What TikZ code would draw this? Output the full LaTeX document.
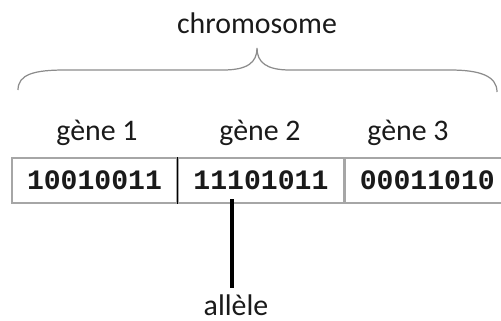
\documentclass[tikz,border=0pt]{standalone}
\usepackage{fontspec}
\setmainfont{Carlito}
\newfontfamily\bitsfont{Liberation Mono}
\usepackage{xcolor}
\definecolor{cellgray}{HTML}{A6A6A6}
\definecolor{bracegray}{HTML}{8C8C8C}
\definecolor{inkblack}{HTML}{1A1A1A}
\usetikzlibrary{positioning, calc}
\tikzset{
    cell/.style = {draw=cellgray, thick, minimum width=3.3cm, minimum height=0.9cm,
                   inner sep=0pt, font=\bitsfont\bfseries\fontsize{16}{18}\selectfont, text=inkblack},
    label/.style = {anchor=base, font=\fontsize{17}{20}\selectfont, text=inkblack},
    pinline/.style = {line width=2.3pt, color=black},
    bracket/.style = {draw=bracegray, line width=0.7pt},
}

\begin{document}
\begin{tikzpicture}
        \clip (0,0) rectangle (10.02,6.4);
        % chromosome cells
        \node[cell] (c1) at (1.89,2.79) {10010011};
        \node[cell, right=0pt of c1] (c2) {11101011};
        \node[cell, right=0pt of c2] (c3) {00011010};
        \draw[black, semithick] (c1.north east) -- (c1.south east);
        % gene labels
        \node[label] (g1) at (1.94,3.6) {gène 1};
        \node[label] (g2) at (5.20,3.6) {gène 2};
        \node[label] (g3) at (8.16,3.6) {gène 3};
        % brace + title
        \coordinate (bl) at (0.36,4.6);
        \coordinate (bt) at (5.14,5.44);
        \coordinate (br) at (9.94,4.56);
        \draw[bracket] (bl) .. controls (0.36,4.92) and (0.7,5.0) .. (1.3,5.0)
            -- (4.46,5.0) .. controls (4.95,5.0) and (5.14,5.15) .. (bt)
            .. controls (5.14,5.15) and (5.33,5.0) .. (5.8,5.0)
            -- (9.0,5.0) .. controls (9.6,5.0) and (9.94,4.88) .. (br);
        \node[label] (chrom) at (5.14,5.74) {chromosome};
        % allele pointer
        \node[label] (allele) at (4.72,0.1) {allèle};
        \coordinate (pin) at (4.64,2.42);
        \draw[pinline] (pin) -- (allele.north -| pin);
\end{tikzpicture}
\end{document}
